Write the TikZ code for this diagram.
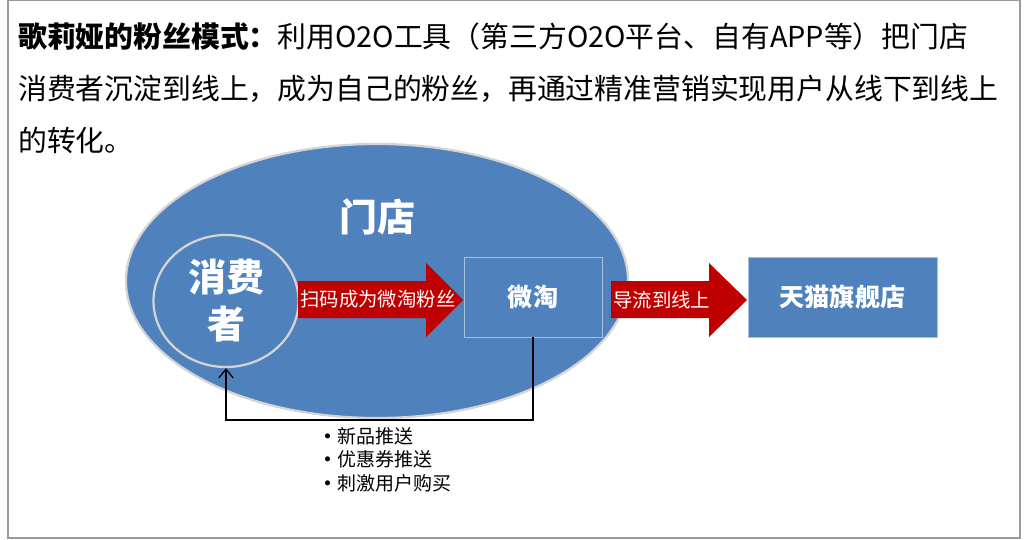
\documentclass[tikz,border=0pt]{standalone}
\usepackage{fontspec}
\setmainfont{Noto Sans CJK SC}
\usetikzlibrary{arrows.meta,calc,positioning,shapes.geometric}
\definecolor{storeblue}{HTML}{4F81BD}
\definecolor{rimgray}{HTML}{D4D4D4}
\definecolor{boxedge}{HTML}{A9C0DE}
\definecolor{flowred}{HTML}{C00000}
\definecolor{framegray}{HTML}{9A9A9A}
\tikzset{
    storeshape/.style={ellipse,fill=storeblue,draw=rimgray,line width=1.6pt,inner sep=0pt},
    bluebox/.style={rectangle,fill=storeblue,draw=boxedge,line width=0.6pt,inner sep=0pt,
        minimum height=2cm,text=white,font=\bfseries\fontsize{17.8}{20}\selectfont},
    flowarrow/.style={fill=flowred},
    flowlabel/.style={text=white,inner sep=0pt,anchor=west,font=\fontsize{13.8}{16}\selectfont},
    titleline/.style={anchor=west,inner sep=0pt,font=\fontsize{20.5}{25}\selectfont},
    feedline/.style={draw=black,line width=0.9pt,-{Straight Barb[length=2.2mm,width=3.6mm]}}
}
\newcommand{\perkdot}{\makebox[0.7em][l]{\raisebox{0.22em}{$\scriptstyle\bullet$}}}

\begin{document}
\begin{tikzpicture}[x=0.025cm,y=-0.025cm]
    \useasboundingbox (0,0) rectangle (1024,539);
    \draw[framegray,line width=0.8pt] (8,0.5) rectangle (1020,538);

    % 标题
    \node[titleline] (line1) at (18,37) {\textbf{歌莉娅的粉丝模式：}利用O2O工具（第三方O2O平台、自有APP等）把门店};
    \node[titleline] (line2) at (18,89) {消费者沉淀到线上，成为自己的粉丝，再通过精准营销实现用户从线下到线上};
    \node[titleline] (line3) at (18,140) {的转化。};

    % 门店
    \node[storeshape,minimum width=12.55cm,minimum height=6.85cm] (store) at (377,281) {};
    \node[text=white,font=\bfseries\fontsize{27}{30}\selectfont] (storename) at (377,217) {门店};

    % 消费者
    \node[storeshape,minimum width=3.625cm,minimum height=3.3cm,align=center,
        text=white,font=\bfseries\fontsize{27}{33.4}\selectfont] (consumer) at (226,301) {消费\\者};

    % 微淘 和 天猫旗舰店
    \node[bluebox,minimum width=3.45cm] (weitao) at (533,297) {微淘};
    \node[bluebox,minimum width=4.725cm] (tmall) at (842.5,297) {天猫旗舰店};

    % 红色箭头
    \fill[flowarrow] (298,281) -- (426,281) -- (426,263) -- (463,300)
        -- (426,337) -- (426,318) -- (298,318) -- cycle;
    \node[flowlabel] (scan) at (300,299) {扫码成为微淘粉丝};

    \fill[flowarrow] (611,281) -- (709,281) -- (709,263) -- (747,300)
        -- (709,337) -- (709,318) -- (611,318) -- cycle;
    \node[flowlabel] (guide) at (613,300) {导流到线上};

    % 回流
    \coordinate (loop) at (377,420);
    \draw[feedline] (weitao.south) |- (loop) -| (consumer.south);

    \node[anchor=north west,align=left,inner sep=0pt,
        font=\fontsize{13.5}{16.8}\selectfont] (perks) at (324,427)
        {\perkdot 新品推送\\\perkdot 优惠券推送\\\perkdot 刺激用户购买};
\end{tikzpicture}
\end{document}
